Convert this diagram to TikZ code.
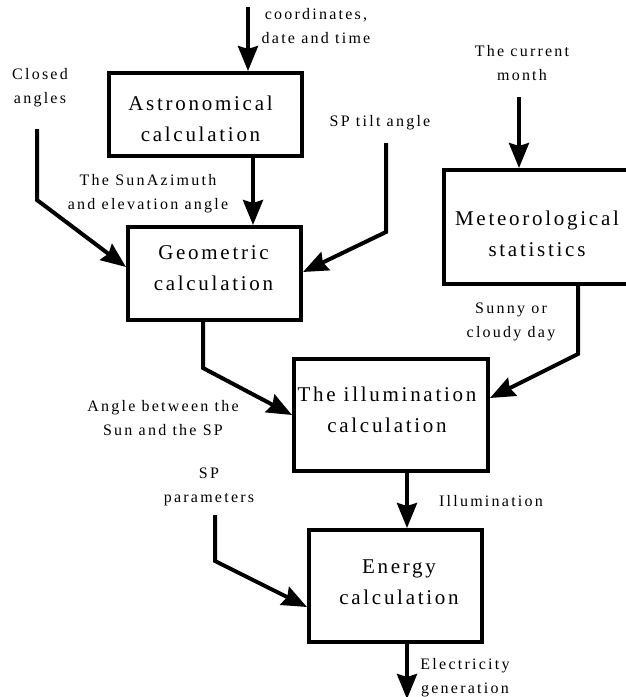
\documentclass[tikz,border=0pt]{standalone}
\usepackage{fontspec}
\setmainfont{Liberation Serif}
\newfontfamily\labfont[LetterSpace=14]{Liberation Serif}
\newfontfamily\boxfont[LetterSpace=13]{Liberation Serif}
\usetikzlibrary{arrows.meta}
\begin{document}
\begin{tikzpicture}[x=1pt,y=-1pt,
  blockbox/.style={draw, line width=4pt, inner sep=0pt},
  blocktext/.style={font=\boxfont\fontsize{21}{31}\selectfont, align=center, inner sep=0pt},
  lab/.style={font=\labfont\fontsize{16}{24}\selectfont, align=center, inner sep=0pt},
  arr/.style={line width=4pt, -{Stealth[length=25pt,width=20pt,inset=3pt]}}]
\fill[white] (0,0) rectangle (626,697);
\useasboundingbox (0,0) rectangle (626,697);

% boxes
\node[blockbox, minimum width=193pt, minimum height=83pt] (astro) at (205.5,114.5) {};
\node[blockbox, minimum width=173pt, minimum height=93pt] (geo) at (214.5,273.5) {};
\node[blockbox, minimum width=186pt, minimum height=114pt] (meteo) at (537,227) {};
\node[blockbox, minimum width=194pt, minimum height=112pt] (illum) at (391,415) {};
\node[blockbox, minimum width=173pt, minimum height=112pt] (energy) at (395.5,586) {};

% box texts
\node[blocktext] (astrot) at (200.5,118.5) {Astronomical\\calculation};
\node[blocktext] (geot) at (213.5,268) {Geometric\\calculation};
\node[blocktext] (meteot) at (537,233.5) {Meteorological\\statistics};
\node[blocktext] (illumt) at (387,410) {The illumination\\calculation};
\node[blocktext] (energyt) at (399,582) {Energy\\calculation};

% labels
\node[lab] (lcoord) at (316,26.5) {coordinates,\\date and time};
\node[lab] (lclosed) at (40,87.5) {Closed\\angles};
\node[lab] (lsunaz) at (148,193.5) {The SunAzimuth\\and elevation angle};
\node[lab] (ltilt) at (380,123) {SP tilt angle};
\node[lab] (lmonth) at (522,63.5) {The current\\month};
\node[lab] (lsunny) at (511,322) {Sunny or\\cloudy day};
\node[lab] (langle) at (163,418) {Angle between the\\Sun and the SP};
\node[lab] (lsppar) at (209,486.5) {SP\\parameters};
\node[lab] (lillum) at (491,501) {Illumination};
\node[lab] (lelec) at (465,677.5) {Electricity\\generation};

% free ends
\coordinate (inA) at (248,7);
\coordinate (cA) at (37,129);
\coordinate (tA) at (386,143);
\coordinate (mA) at (519,97);
\coordinate (pA) at (215,515);
\coordinate (out) at (407,699);

% connectors
\draw[arr] (inA) -- (inA |- astro.north);
\draw[arr] (253,0 |- astro.south) -- (253,0 |- geo.north);
\draw[arr] (cA) -- (37,200) -- (geo.west |- 0,267);
\draw[arr] (tA) -- (386,232) -- (geo.east |- 0,272);
\draw[arr] (mA) -- (mA |- meteo.north);
\draw[arr] (203,0 |- geo.south) -- (203,368) -- (illum.west |- 0,415);
\draw[arr] (578,0 |- meteo.south) -- (578,354) -- (illum.east |- 0,398);
\draw[arr] (407,0 |- illum.south) -- (407,0 |- energy.north);
\draw[arr] (pA) -- (215,561) -- (energy.west |- 0,607);
\draw[arr] (407,0 |- energy.south) -- (out);
\end{tikzpicture}
\end{document}
